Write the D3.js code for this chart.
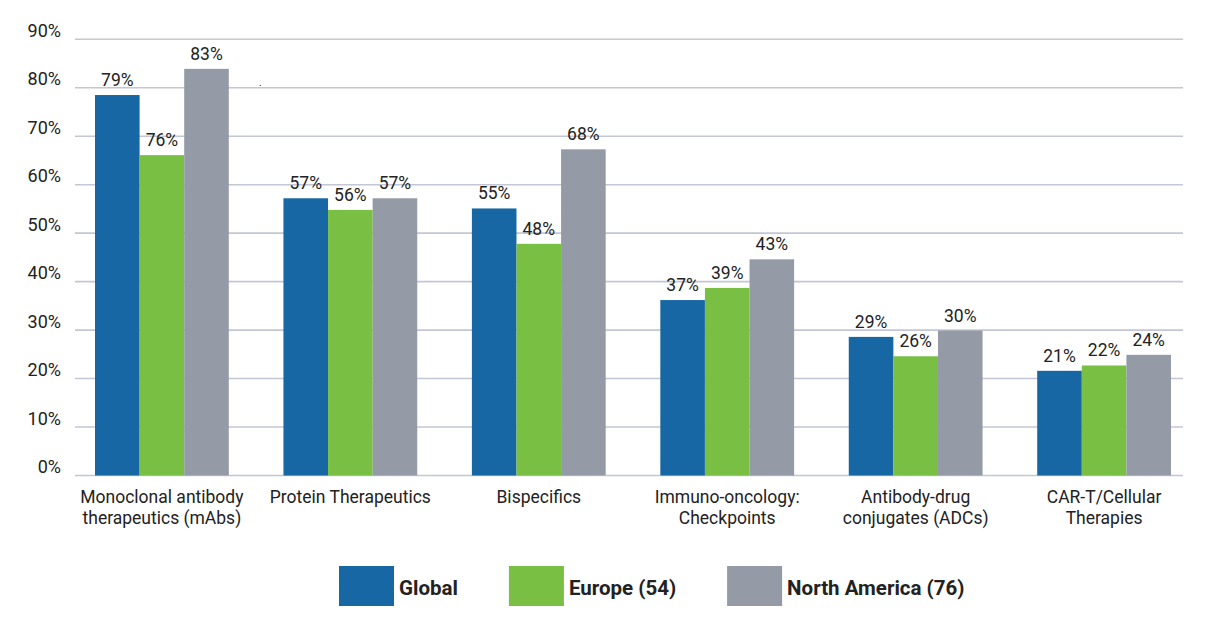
<!DOCTYPE html>
<html>
<head>
<meta charset="utf-8">
<script src="https://cdn.jsdelivr.net/npm/d3@7"></script>
<style>
  body { margin: 0; background: #fff; }
  text { font-family: Roboto, "Noto Sans", sans-serif; fill: #222; }
</style>
</head>
<body>
<div class="chart"></div>
<script>
'use strict';

// Data
const categories = [
  ['Monoclonal antibody', 'therapeutics (mAbs)'],
  ['Protein Therapeutics'],
  ['Bispecifics'],
  ['Immuno-oncology:', 'Checkpoints'],
  ['Antibody-drug', 'conjugates (ADCs)'],
  ['CAR-T/Cellular', 'Therapies']
];
const seriesNames = ['Global', 'Europe (54)', 'North America (76)'];
const colors = ['#1767a4', '#78bf44', '#949ba7'];

// bar heights as drawn in the picture
const globalVals = [78.5, 57.2, 55.1, 36.2, 28.6, 21.6];
const europeVals = [66.1, 54.8, 47.8, 38.7, 24.6, 22.7];
const naVals     = [83.9, 57.2, 67.3, 44.6, 29.9, 24.9];

// printed labels
const globalLabels = ['79%', '57%', '55%', '37%', '29%', '21%'];
const europeLabels = ['76%', '56%', '48%', '39%', '26%', '22%'];
const naLabels     = ['83%', '57%', '68%', '43%', '30%', '24%'];

const yTicks = [0, 10, 20, 30, 40, 50, 60, 70, 80, 90];

const values = [globalVals, europeVals, naVals];
const labels = [globalLabels, europeLabels, naLabels];

// Initialize
const w = 1210;
const h = 632;

const svg = d3.select('.chart')
  .append('svg')
  .attr('width', w)
  .attr('height', h);

// Scales
const xScale = d3.scaleBand()
  .domain(d3.range(categories.length))
  .range([95, 1171])
  .paddingInner(0.29)
  .paddingOuter(0);

const xInner = d3.scaleBand()
  .domain(d3.range(seriesNames.length))
  .range([0, xScale.bandwidth()]);

const yScale = d3.scaleLinear()
  .domain([0, 90])
  .range([475.5, 39.3]);

// Grid
svg.append('g')
  .selectAll('line')
  .data(yTicks)
  .enter()
  .append('line')
  .attr('x1', 75)
  .attr('x2', 1183)
  .attr('y1', d => yScale(d))
  .attr('y2', d => yScale(d))
  .attr('stroke', '#c3c6d5')
  .attr('stroke-width', 1.6);

// Y axis labels
svg.append('g')
  .selectAll('text')
  .data(yTicks)
  .enter()
  .append('text')
  .attr('x', 61)
  .attr('y', d => yScale(d) - 2.5)
  .attr('text-anchor', 'end')
  .style('font-size', '18px')
  .text(d => d + '%');

// Bars
const groups = svg.append('g')
  .selectAll('g')
  .data(categories)
  .enter()
  .append('g')
  .attr('transform', (d, i) => `translate(${xScale(i)},0)`);

groups.selectAll('rect')
  .data((d, i) => values.map((s, j) => ({ v: s[i], j: j })))
  .enter()
  .append('rect')
  .attr('x', d => xInner(d.j))
  .attr('y', d => yScale(d.v))
  .attr('width', xInner.bandwidth())
  .attr('height', d => yScale(0) - yScale(d.v))
  .attr('fill', d => colors[d.j]);

groups.selectAll('text.val')
  .data((d, i) => values.map((s, j) => ({ v: s[i], t: labels[j][i], j: j })))
  .enter()
  .append('text')
  .attr('class', 'val')
  .attr('x', d => xInner(d.j) + xInner.bandwidth() / 2)
  .attr('y', d => yScale(d.v) - 9)
  .attr('text-anchor', 'middle')
  .style('font-size', '17.5px')
  .text(d => d.t);

// Category labels
svg.append('g')
  .selectAll('text')
  .data(categories)
  .enter()
  .append('text')
  .attr('text-anchor', 'middle')
  .attr('x', (d, i) => xScale(i) + xScale.bandwidth() / 2)
  .attr('y', 503)
  .style('font-size', '17.5px')
  .selectAll('tspan')
  .data(d => d)
  .enter()
  .append('tspan')
  .attr('x', function () { return d3.select(this.parentNode).attr('x'); })
  .attr('dy', (d, i) => i === 0 ? 0 : 21)
  .text(d => d);

// stray mark in the source
svg.append('text')
  .attr('x', 259)
  .attr('y', 86)
  .style('font-size', '10px')
  .text('.');

// Legend
const legend = svg.append('g');
let lx = 339;
seriesNames.forEach((name, i) => {
  legend.append('rect')
    .attr('x', lx)
    .attr('y', 566)
    .attr('width', 55)
    .attr('height', 40)
    .attr('fill', colors[i]);
  const t = legend.append('text')
    .attr('x', lx + 60)
    .attr('y', 594.5)
    .style('font-size', '20.5px')
    .style('font-weight', 'bold')
    .text(name);
  lx += 60 + t.node().getComputedTextLength() + 51;
});
</script>
</body>
</html>
